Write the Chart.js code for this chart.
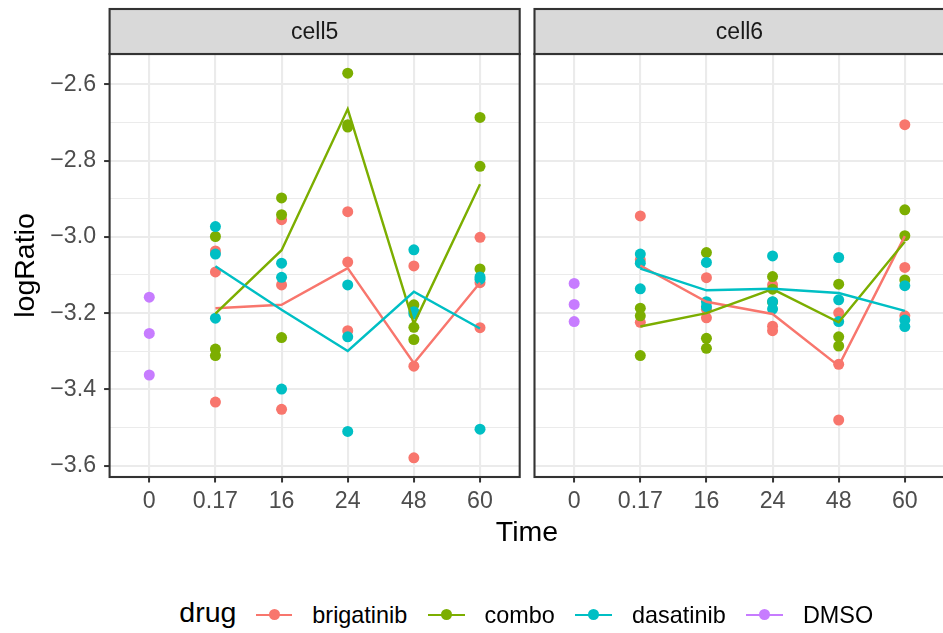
<!DOCTYPE html>
<html><head><meta charset="utf-8">
<script src="https://cdn.jsdelivr.net/npm/chart.js@4"></script>
<style>
html,body{margin:0;padding:0;background:#fff;overflow:hidden}
#wrap{position:relative;width:943px;height:633px;overflow:hidden;font-family:"Liberation Sans",Arial,sans-serif;background:#fff}
canvas{position:absolute;top:0}
.t{position:absolute;white-space:nowrap;line-height:1;color:#000}
#legend{position:absolute;left:179.3px;top:594.8px;height:40px;display:flex;align-items:center}
#legend .lt{font-size:28.5px;line-height:1;position:relative;top:-3px;margin-right:19.4px}
#legend .key{position:relative;width:36.6px;height:12px;margin-right:20px}
#legend .key .ln{position:absolute;left:0;top:4.8px;width:36.6px;height:2.4px}
#legend .key .dt{position:absolute;left:12.8px;top:0.5px;width:11px;height:11px;border-radius:50%}
#legend .lb{font-size:23.4px;line-height:1;position:relative;top:0.5px;margin-right:20.7px}
</style></head><body>
<div id="wrap">
<canvas id="c5" width="530" height="540" style="left:0;width:530px;height:540px"></canvas>
<canvas id="c6" width="430" height="540" style="left:525px;width:430px;height:540px"></canvas>
<div class="t" id="xtitle" style="font-size:28.5px;left:527px;top:516.9px;transform:translateX(-50%)">Time</div>
<div id="legend"></div>
</div>
<script>
// ---- data ----
const times = ['0', '0.17', '16', '24', '48', '60'];
const panels = ['cell5', 'cell6'];
const drugs = ['brigatinib', 'combo', 'dasatinib', 'DMSO'];
const drugColors = ['#F8766D', '#7CAE00', '#00BFC4', '#C77CFF'];
const yTickValues = [-3.6, -3.5, -3.4, -3.3, -3.2, -3.1, -3.0, -2.9, -2.8, -2.7, -2.6];

// individual observations, one list per time point
const cell5Brigatinib = [[], [-3.037, -3.092, -3.433], [-2.955, -3.126, -3.452], [-2.934, -3.066, -3.246], [-3.076, -3.339, -3.579], [-3.001, -3.120, -3.238]];
const cell5Combo      = [[], [-2.999, -3.294, -3.311], [-2.898, -2.942, -3.264], [-2.571, -2.706, -2.712], [-3.178, -3.237, -3.269], [-2.687, -2.815, -3.084]];
const cell5Dasatinib  = [[], [-2.973, -3.045, -3.213], [-3.069, -3.106, -3.399], [-3.126, -3.262, -3.510], [-3.034, -3.196, -3.202], [-3.105, -3.111, -3.504]];
const cell5DMSO       = [[-3.158, -3.253, -3.362], [], [], [], [], []];

const cell6Brigatinib = [[], [-2.945, -3.060, -3.224], [-3.107, -3.190, -3.212], [-3.126, -3.234, -3.246], [-3.199, -3.334, -3.480], [-2.706, -3.080, -3.207]];
const cell6Combo      = [[], [-3.187, -3.207, -3.311], [-3.041, -3.266, -3.292], [-3.104, -3.137, -3.171], [-3.124, -3.262, -3.286], [-2.929, -2.997, -3.113]];
const cell6Dasatinib  = [[], [-3.045, -3.069, -3.136], [-3.067, -3.170, -3.183], [-3.050, -3.170, -3.189], [-3.054, -3.165, -3.222], [-3.128, -3.218, -3.235]];
const cell6DMSO       = [[-3.122, -3.177, -3.222], [], [], [], [], []];

// mean lines
const cell5BrigatinibMean = [null, -3.187, -3.178, -3.082, -3.331, -3.120];
const cell5ComboMean      = [null, -3.201, -3.035, -2.665, -3.228, -2.862];
const cell5DasatinibMean  = [null, -3.077, -3.191, -3.299, -3.144, -3.240];
const cell6BrigatinibMean = [null, -3.075, -3.170, -3.202, -3.338, -2.998];
const cell6ComboMean      = [null, -3.235, -3.200, -3.137, -3.224, -3.013];
const cell6DasatinibMean  = [null, -3.083, -3.140, -3.136, -3.147, -3.194];

const panelPoints = {
  cell5: [cell5Brigatinib, cell5Combo, cell5Dasatinib, cell5DMSO],
  cell6: [cell6Brigatinib, cell6Combo, cell6Dasatinib, cell6DMSO]
};
const panelMeans = {
  cell5: [cell5BrigatinibMean, cell5ComboMean, cell5DasatinibMean, null],
  cell6: [cell6BrigatinibMean, cell6ComboMean, cell6DasatinibMean, null]
};

// ---- shared y range (ggplot 5% expansion of data range) ----
const allVals = [];
panels.forEach(p => panelPoints[p].forEach(d => d.forEach(arr => arr.forEach(v => allVals.push(v)))));
const dMin = Math.min(...allVals), dMax = Math.max(...allVals);
const yMin = dMin - (dMax - dMin) * 0.05, yMax = dMax + (dMax - dMin) * 0.05;

Chart.defaults.font.family = '"Liberation Sans", Arial, sans-serif';

const isMajor = v => Math.round(Math.round(v * 10)) % 2 === 0;
const fmt = v => { const s = Math.abs(v).toFixed(1); return (v < 0 ? '\u2212' : '') + s; };

const panelDeco = {
  id: 'panelDeco',
  afterDatasetsDraw(chart, args, opts) {
    const { ctx, chartArea: a } = chart;
    ctx.save();
    ctx.lineWidth = 2.1;
    ctx.strokeStyle = '#333333';
    ctx.strokeRect(a.left, a.top, a.right - a.left, a.bottom - a.top);
    const sh = 45, st = a.top - sh;
    ctx.fillStyle = '#D9D9D9';
    ctx.fillRect(a.left, st, a.right - a.left, sh);
    ctx.strokeRect(a.left, st, a.right - a.left, sh);
    ctx.fillStyle = '#1A1A1A';
    ctx.font = '23px "Liberation Sans", Arial, sans-serif';
    ctx.textAlign = 'center';
    ctx.textBaseline = 'middle';
    ctx.fillText(opts.label, (a.left + a.right) / 2, st + sh / 2 + 1);
    ctx.restore();
  }
};

function buildDatasets(panel) {
  const ds = [];
  const pointOrder = [7, 6, 5, 4];
  const lineOrder = [3, 2, 1];
  drugs.forEach((drug, di) => {
    const pts = [];
    panelPoints[panel][di].forEach((arr, ti) => arr.forEach(v => pts.push({ x: ti + 1, y: v })));
    ds.push({
      label: drug, data: pts, order: pointOrder[di],
      pointRadius: 5.5, pointBorderWidth: 0, backgroundColor: drugColors[di],
      pointBackgroundColor: drugColors[di], showLine: false
    });
  });
  drugs.forEach((drug, di) => {
    const m = panelMeans[panel][di];
    if (!m) return;
    const pts = [];
    m.forEach((v, ti) => { if (v !== null) pts.push({ x: ti + 1, y: v }); });
    ds.push({
      label: drug + ' mean', data: pts, order: lineOrder[di],
      showLine: true, pointRadius: 0, borderColor: drugColors[di],
      borderWidth: 2.4, fill: false, tension: 0
    });
  });
  return ds;
}

function makeChart(id, panel, isLeft) {
  const canvas = document.getElementById(id);
  const yScale = {
    type: 'linear', min: yMin, max: yMax,
    afterBuildTicks: s => { s.ticks = yTickValues.map(v => ({ value: v })); },
    afterFit: s => { s.width = isLeft ? 109.6 : 0; },
    border: { display: false },
    grid: {
      color: '#EBEBEB',
      lineWidth: c => (c.tick && isMajor(c.tick.value)) ? 2.1 : 1.1,
      drawTicks: isLeft,
      tickColor: c => (c.tick && isMajor(c.tick.value)) ? '#333333' : 'rgba(0,0,0,0)',
      tickLength: 5.5, tickWidth: 2
    },
    ticks: {
      display: isLeft, autoSkip: false, padding: 8, color: '#4D4D4D', font: { size: 23.2 },
      callback: v => isMajor(v) ? fmt(v) : ''
    },
    title: {
      display: isLeft, text: 'logRatio', color: '#000000', font: { size: 28.5 },
      padding: { top: 8.8, bottom: 0 }
    }
  };
  const xScale = {
    type: 'linear', min: 0.4, max: times.length + 0.6,
    afterBuildTicks: s => { s.ticks = times.map((t, i) => ({ value: i + 1 })); },
    afterFit: s => { s.height = 63; },
    border: { display: false },
    grid: { color: '#EBEBEB', lineWidth: 2.1, tickColor: '#333333', tickLength: 5.5, tickWidth: 2 },
    ticks: {
      autoSkip: false, maxRotation: 0, padding: 5, color: '#4D4D4D', font: { size: 23.2 },
      callback: v => times[Math.round(v) - 1]
    }
  };
  return new Chart(canvas, {
    type: 'scatter',
    data: { datasets: buildDatasets(panel) },
    options: {
      responsive: false, animation: false, devicePixelRatio: 1, events: [],
      layout: { padding: isLeft ? { top: 54, right: 10.3, bottom: 0, left: 0 } : { top: 54, right: 10.5, bottom: 0, left: 9.5 } },
      scales: { x: xScale, y: yScale },
      plugins: { legend: { display: false }, tooltip: { enabled: false }, panelDeco: { label: panel } }
    },
    plugins: [panelDeco]
  });
}

makeChart('c5', 'cell5', true);
makeChart('c6', 'cell6', false);

// ---- legend ----
const leg = document.getElementById('legend');
const title = document.createElement('span');
title.className = 'lt'; title.textContent = 'drug';
leg.appendChild(title);
drugs.forEach((d, i) => {
  const key = document.createElement('div'); key.className = 'key';
  const ln = document.createElement('div'); ln.className = 'ln'; ln.style.background = drugColors[i];
  const dt = document.createElement('div'); dt.className = 'dt'; dt.style.background = drugColors[i];
  key.appendChild(ln); key.appendChild(dt);
  const lb = document.createElement('span'); lb.className = 'lb'; lb.textContent = d;
  leg.appendChild(key); leg.appendChild(lb);
});
</script>
</body></html>
